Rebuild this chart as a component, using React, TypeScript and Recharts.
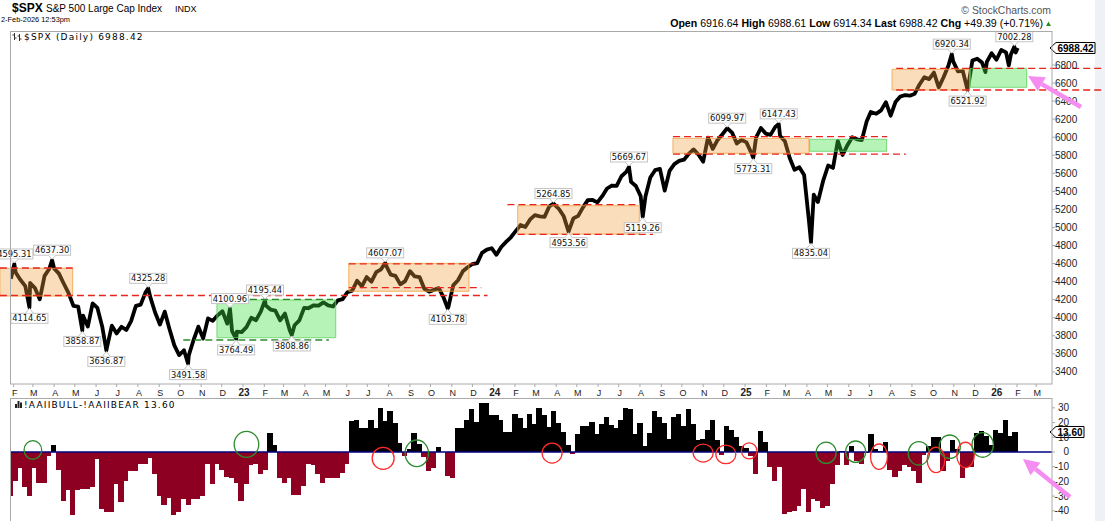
import React from 'react';
import {
  ComposedChart,
  Line,
  Bar,
  XAxis,
  YAxis,
  ReferenceArea,
  ReferenceLine,
  ReferenceDot,
} from 'recharts';

// ---------- data ----------
// S&P 500 weekly closes plus the marked swing highs / lows
const SPX_2022: [string, number][] = [
  ['2022-01-28', 4431.85], ['2022-02-02', 4595.31], ['2022-02-04', 4500.53], ['2022-02-11', 4418.64],
  ['2022-02-18', 4348.87], ['2022-02-24', 4114.65], ['2022-02-25', 4384.65], ['2022-03-04', 4328.87],
  ['2022-03-11', 4204.31], ['2022-03-18', 4463.12], ['2022-03-25', 4543.06], ['2022-03-29', 4637.3],
  ['2022-04-01', 4545.86], ['2022-04-08', 4488.28], ['2022-04-14', 4392.59], ['2022-04-22', 4271.78],
  ['2022-04-29', 4131.93], ['2022-05-06', 4123.34], ['2022-05-12', 3858.87], ['2022-05-13', 4023.89],
  ['2022-05-20', 3901.36], ['2022-05-27', 4158.24], ['2022-06-03', 4108.54], ['2022-06-10', 3900.86],
  ['2022-06-16', 3636.87], ['2022-06-17', 3674.84], ['2022-06-24', 3911.74], ['2022-07-01', 3825.33],
  ['2022-07-08', 3899.38], ['2022-07-15', 3863.16], ['2022-07-22', 3961.63], ['2022-07-29', 4130.29],
  ['2022-08-05', 4145.19], ['2022-08-12', 4280.15], ['2022-08-16', 4325.28], ['2022-08-19', 4228.48],
  ['2022-08-26', 4057.66], ['2022-09-02', 3924.26], ['2022-09-09', 4067.36], ['2022-09-16', 3873.33],
  ['2022-09-23', 3693.23], ['2022-09-30', 3585.62], ['2022-10-07', 3639.66], ['2022-10-13', 3491.58],
  ['2022-10-14', 3583.07], ['2022-10-21', 3752.75], ['2022-10-28', 3901.06], ['2022-11-04', 3770.55],
  ['2022-11-11', 3992.93], ['2022-11-18', 3965.34], ['2022-11-25', 4026.12], ['2022-12-02', 4071.7],
  ['2022-12-09', 3934.38], ['2022-12-13', 4100.96], ['2022-12-16', 3852.36], ['2022-12-22', 3764.49],
  ['2022-12-23', 3844.82], ['2022-12-30', 3839.5],
];
const SPX_2023: [string, number][] = [
  ['2023-01-06', 3895.08], ['2023-01-13', 3999.09], ['2023-01-20', 3972.61], ['2023-01-27', 4070.56],
  ['2023-02-02', 4195.44], ['2023-02-03', 4136.48], ['2023-02-10', 4090.46], ['2023-02-17', 4079.09],
  ['2023-02-24', 3970.04], ['2023-03-03', 4045.64], ['2023-03-10', 3861.59], ['2023-03-13', 3808.86],
  ['2023-03-17', 3916.64], ['2023-03-24', 3970.99], ['2023-03-31', 4109.31], ['2023-04-06', 4105.02],
  ['2023-04-14', 4137.64], ['2023-04-21', 4133.52], ['2023-04-28', 4169.48], ['2023-05-05', 4136.25],
  ['2023-05-12', 4124.08], ['2023-05-19', 4191.98], ['2023-05-26', 4205.45], ['2023-06-02', 4282.37],
  ['2023-06-09', 4298.86], ['2023-06-16', 4409.59], ['2023-06-23', 4348.33], ['2023-06-30', 4450.38],
  ['2023-07-07', 4398.95], ['2023-07-14', 4505.42], ['2023-07-21', 4536.34], ['2023-07-27', 4607.07],
  ['2023-07-28', 4582.23], ['2023-08-04', 4478.03], ['2023-08-11', 4464.05], ['2023-08-18', 4369.71],
  ['2023-08-25', 4405.71], ['2023-09-01', 4515.77], ['2023-09-08', 4457.49], ['2023-09-15', 4450.32],
  ['2023-09-22', 4320.06], ['2023-09-29', 4288.05], ['2023-10-06', 4308.5], ['2023-10-13', 4327.78],
  ['2023-10-20', 4224.16], ['2023-10-26', 4103.78], ['2023-10-27', 4117.37], ['2023-11-03', 4358.34],
  ['2023-11-10', 4415.24], ['2023-11-17', 4514.02], ['2023-11-24', 4559.34], ['2023-12-01', 4594.63],
  ['2023-12-08', 4604.37], ['2023-12-15', 4719.19], ['2023-12-22', 4754.63], ['2023-12-29', 4769.83],
];
const SPX_2024: [string, number][] = [
  ['2024-01-05', 4697.24], ['2024-01-12', 4783.83], ['2024-01-19', 4839.81], ['2024-01-26', 4890.97],
  ['2024-02-02', 4958.61], ['2024-02-09', 5026.61], ['2024-02-16', 5005.57], ['2024-02-23', 5088.8],
  ['2024-03-01', 5137.08], ['2024-03-08', 5123.69], ['2024-03-15', 5117.09], ['2024-03-22', 5234.18],
  ['2024-03-28', 5264.85], ['2024-04-05', 5204.34], ['2024-04-12', 5123.41], ['2024-04-19', 4953.56],
  ['2024-04-26', 5099.96], ['2024-05-03', 5127.79], ['2024-05-10', 5222.68], ['2024-05-17', 5303.27],
  ['2024-05-24', 5304.72], ['2024-05-31', 5277.51], ['2024-06-07', 5346.99], ['2024-06-14', 5431.6],
  ['2024-06-21', 5464.62], ['2024-06-28', 5460.48], ['2024-07-05', 5567.19], ['2024-07-12', 5615.35],
  ['2024-07-16', 5669.67], ['2024-07-19', 5505.0], ['2024-07-26', 5459.1], ['2024-08-02', 5346.56],
  ['2024-08-05', 5119.26], ['2024-08-09', 5344.16], ['2024-08-16', 5554.25], ['2024-08-23', 5634.61],
  ['2024-08-30', 5648.4], ['2024-09-06', 5408.42], ['2024-09-13', 5626.02], ['2024-09-20', 5702.55],
  ['2024-09-27', 5738.17], ['2024-10-04', 5751.07], ['2024-10-11', 5815.03], ['2024-10-18', 5864.67],
  ['2024-10-25', 5808.12], ['2024-11-01', 5728.8], ['2024-11-08', 5995.54], ['2024-11-15', 5870.62],
  ['2024-11-22', 5969.34], ['2024-11-29', 6032.38], ['2024-12-06', 6099.97], ['2024-12-13', 6051.09],
  ['2024-12-20', 5930.85], ['2024-12-27', 5970.84],
];
const SPX_2025: [string, number][] = [
  ['2025-01-03', 5942.47], ['2025-01-10', 5827.04], ['2025-01-13', 5773.31], ['2025-01-17', 5996.66],
  ['2025-01-24', 6101.24], ['2025-01-31', 6040.53], ['2025-02-07', 6025.99], ['2025-02-14', 6114.63],
  ['2025-02-19', 6147.43], ['2025-02-21', 6013.13], ['2025-02-28', 5954.5], ['2025-03-07', 5770.2],
  ['2025-03-14', 5638.94], ['2025-03-21', 5667.56], ['2025-03-28', 5580.94], ['2025-04-04', 5074.08],
  ['2025-04-07', 4835.04], ['2025-04-11', 5363.36], ['2025-04-17', 5282.7], ['2025-04-25', 5525.21],
  ['2025-05-02', 5686.67], ['2025-05-09', 5659.91], ['2025-05-16', 5958.38], ['2025-05-23', 5802.82],
  ['2025-05-30', 5911.69], ['2025-06-06', 6000.36], ['2025-06-13', 5976.97], ['2025-06-20', 5967.84],
  ['2025-06-27', 6173.07], ['2025-07-03', 6279.35], ['2025-07-11', 6259.75], ['2025-07-18', 6296.79],
  ['2025-07-25', 6388.64], ['2025-08-01', 6238.01], ['2025-08-08', 6389.45], ['2025-08-15', 6449.8],
  ['2025-08-22', 6466.91], ['2025-08-29', 6460.26], ['2025-09-05', 6481.5], ['2025-09-12', 6584.29],
  ['2025-09-19', 6664.36], ['2025-09-26', 6643.7], ['2025-10-03', 6715.79], ['2025-10-10', 6552.51],
  ['2025-10-17', 6664.01], ['2025-10-24', 6791.69], ['2025-10-29', 6920.34], ['2025-10-31', 6840.2],
  ['2025-11-07', 6728.8], ['2025-11-14', 6734.11], ['2025-11-21', 6521.92], ['2025-11-28', 6849.09],
  ['2025-12-05', 6870.4], ['2025-12-12', 6827.41], ['2025-12-17', 6721.43], ['2025-12-19', 6834.5],
  ['2025-12-26', 6929.94],
];
const SPX_2026: [string, number][] = [
  ['2026-01-02', 6858.47], ['2026-01-09', 6966.28], ['2026-01-16', 6940.01], ['2026-01-20', 6796.86],
  ['2026-01-23', 6915.61], ['2026-01-28', 7002.28], ['2026-01-30', 6939.03], ['2026-02-02', 6988.42],
];

// AAII bull-bear spread, weekly from 2022-01-27
const AAII_START = '2022-01-27';
const AAII_2022 = [
  -30, -20, -11, -24, -30, -11, -21, -21, -3, 5, -12, -33, -26, -43, -26, -25, -25, -24, -5, -39,
  -41, -41, -22, -34, -20, -13, -13, -8, -8, -4, -15, -30, -36, -31, -43, -41, -32, -36, -32, -32,
  -30, -8, -22, -8, -12, -17, -18, -21, -33,
];
const AAII_2023 = [
  -22, -9, -8, -15, -12, 13, 5, -18, -21, -18, -29, -29, -23, -8, -9, -15, -21, -18, -18, -18,
  -14, -8, 21, 22, 16, 16, 22, 16, 30, 21, 28, 20, 6, -3, 2, 13, 5.7, -3.4, -13, -11,
  3.4, 0.3, -16, -18, 16, 16, 21.5, 29.5, 20.4, 33, 33, 25,
];
const AAII_2024 = [
  25, 21.5, 13.6, 13.6, 25.6, 23, 16, 25.6, 19.3, 30, 25, 17, 27.7, 20, 13.6, 5, -1.4, 12.5, 17.7, 18,
  20.4, 12.5, 19.3, 23.8, 18.6, 16.6, 21.5, 30, 29, 12.5, 20, 4, 13, 28, 24, 20, 9, 24, 26, 18,
  29, 19, 8, 9, 15, 22, 8, -2, 18, 15, 10, 4,
];
const AAII_2025 = [
  3, -3, -15, 14, 7, -10, -20, -10, -42, -41, -40, -37, -25, -41, -32, -33, -38, -37, -22, -9,
  1, -9, 4, -6, -8, -1, 12, 2, 1, 7, -12, -17, -13, -9, -10, -13, -21, -2, 4, 10,
  10, -13, -6, 8, 2, -18, -10, -10, 13, 14, 11, 5,
];
const AAII_2026 = [15, 13, 22, 11, 13.6];

const PRICE_TICKS = [3400, 3600, 3800, 4000, 4200, 4400, 4600, 4800, 5000, 5200, 5400, 5600, 5800, 6000, 6200, 6400, 6600, 6800];
const AAII_TICKS = [-40, -30, -20, -10, 0, 10, 20, 30];
const MONTH_LETTERS = ['J', 'F', 'M', 'A', 'M', 'J', 'J', 'A', 'S', 'O', 'N', 'D'];

// swing labels: date, value, high/low
const SWINGS: [string, number, 'h' | 'l'][] = [
  ['2022-02-02', 4595.31, 'h'], ['2022-02-24', 4114.65, 'l'], ['2022-03-29', 4637.3, 'h'],
  ['2022-05-12', 3858.87, 'l'], ['2022-06-16', 3636.87, 'l'], ['2022-08-16', 4325.28, 'h'],
  ['2022-10-13', 3491.58, 'l'], ['2022-12-13', 4100.96, 'h'], ['2022-12-22', 3764.49, 'l'],
  ['2023-02-02', 4195.44, 'h'], ['2023-03-13', 3808.86, 'l'], ['2023-07-27', 4607.07, 'h'],
  ['2023-10-26', 4103.78, 'l'], ['2024-03-28', 5264.85, 'h'], ['2024-04-19', 4953.56, 'l'],
  ['2024-07-16', 5669.67, 'h'], ['2024-08-05', 5119.26, 'l'], ['2024-12-06', 6099.97, 'h'],
  ['2025-01-13', 5773.31, 'l'], ['2025-02-19', 6147.43, 'h'], ['2025-04-07', 4835.04, 'l'],
  ['2025-10-29', 6920.34, 'h'], ['2025-11-21', 6521.92, 'l'], ['2026-01-28', 7002.28, 'h'],
];

// annotation boxes: from, to, top, bottom, colour
const BOXES: [string, string, number, number, 'o' | 'g'][] = [
  ['2022-01-12', '2022-04-28', 4547, 4240, 'o'],
  ['2022-11-24', '2023-05-16', 4196, 3778, 'g'],
  ['2023-06-04', '2023-11-26', 4603, 4293, 'o'],
  ['2024-02-05', '2024-07-31', 5241, 4927, 'o'],
  ['2024-09-18', '2025-04-04', 5988, 5822, 'o'],
  ['2025-04-05', '2025-07-26', 5977, 5844, 'g'],
  ['2025-08-03', '2025-11-24', 6752, 6523, 'o'],
  ['2025-11-25', '2026-02-15', 6763, 6553, 'g'],
];

// dashed level lines: from, to, level, colour
const LEVELS: [string, string, number, 'r' | 'g'][] = [
  ['2022-01-12', '2023-12-23', 4246, 'r'],
  ['2022-01-12', '2022-04-28', 4551, 'r'],
  ['2023-06-04', '2023-12-04', 4597, 'r'],
  ['2023-06-04', '2023-12-14', 4333, 'r'],
  ['2024-01-21', '2024-07-31', 5252, 'r'],
  ['2024-02-05', '2024-08-20', 4924, 'r'],
  ['2024-09-18', '2025-07-27', 6006, 'r'],
  ['2024-09-18', '2025-08-23', 5812, 'r'],
  ['2025-08-09', '2026-06-08', 6763, 'r'],
  ['2025-08-09', '2026-06-08', 6523, 'r'],
  ['2023-01-11', '2023-05-12', 4202, 'g'],
  ['2022-10-06', '2023-05-06', 3753, 'g'],
];

// circles on the sentiment panel: date, level, rx, ry, colour
const CIRCLES: [string, number, number, number, 'r' | 'g'][] = [
  ['2022-03-01', 1.4, 8.8, 9.3, 'g'], ['2023-01-06', 5.2, 12.3, 13, 'g'],
  ['2023-07-24', -4.3, 11, 11, 'r'], ['2023-09-11', -0.9, 11.7, 13.3, 'g'],
  ['2024-03-26', -0.7, 10, 10, 'r'], ['2024-11-01', -0.7, 10, 9, 'r'],
  ['2024-12-04', -1.6, 10, 9.3, 'r'], ['2025-01-07', 0.7, 7.8, 8, 'r'],
  ['2025-04-29', -0.5, 10, 10.7, 'g'], ['2025-06-11', 0.2, 10, 10.7, 'g'],
  ['2025-07-15', -3.2, 8.5, 12.7, 'r'], ['2025-09-11', -0.9, 10.6, 11.7, 'g'],
  ['2025-10-06', -5.4, 8.8, 12.7, 'r'], ['2025-10-26', 3.6, 10.6, 11.7, 'g'],
  ['2025-11-18', -2, 8.8, 12.7, 'r'], ['2025-12-13', 4.8, 10.7, 12.3, 'g'],
];

// ---------- helpers ----------
const DAY0 = Date.UTC(2023, 0, 1);
const toDay = (s: string) => Math.round((Date.parse(s + 'T00:00:00Z') - DAY0) / 86400000);

const X_MIN = -339.3;
const X_MAX = 1177.9;
const Y_MIN = 3265.4;
const Y_MAX = 7165.7;
const A_MIN = -46.9;
const A_MAX = 36.7;
const WEEK_PX = 5.3; // one week on the time axis, overlapped so neighbouring bars join

const SANS = 'Liberation Sans, Arial, sans-serif';
const SC = 'DejaVu Sans, Verdana, sans-serif';
const RED = '#e8241e';
const DKRED = '#8e0022';

const priceData = [...SPX_2022, ...SPX_2023, ...SPX_2024, ...SPX_2025, ...SPX_2026].map(([d, v]) => ({
  d: toDay(d),
  spx: v,
}));

const aaiiData = [...AAII_2022, ...AAII_2023, ...AAII_2024, ...AAII_2025, ...AAII_2026].map((v, i) => ({
  d: toDay(AAII_START) + 7 * i,
  v,
}));

const monthTicks: number[] = [];
for (let y = 2022; y <= 2026; y++) {
  for (let m = 0; m < 12; m++) {
    const t = (Date.UTC(y, m, 1) - DAY0) / 86400000;
    if (t > X_MIN && t < X_MAX) monthTicks.push(t);
  }
}

const MonthTick = (props: any) => {
  const { x, y, payload } = props;
  const dt = new Date(DAY0 + payload.value * 86400000);
  const m = dt.getUTCMonth();
  const yr = m === 0;
  return (
    <text
      x={x + 1}
      y={y + 8.5}
      textAnchor="middle"
      fontSize={yr ? 10 : 9}
      fontWeight={yr ? 'bold' : 'normal'}
      fontFamily={SANS}
      fill="#222"
    >
      {yr ? String(dt.getUTCFullYear()).slice(2) : MONTH_LETTERS[m]}
    </text>
  );
};

// weekly bar: a full week wide, black above zero, dark red below
const WeekBar = (p: any) => {
  if (p.height == null || p.width == null) return null;
  const cx = p.x + p.width / 2;
  const y = Math.min(p.y, p.y + p.height);
  const h = Math.abs(p.height);
  const neg = p.payload && p.payload.v < 0;
  return (
    <rect
      x={cx - WEEK_PX / 2}
      y={y}
      width={WEEK_PX}
      height={h}
      fill={neg ? DKRED : '#000'}
      shapeRendering="crispEdges"
    />
  );
};

const SwingLabel = ({ cx, cy, text, dir }: any) => {
  const w = 37;
  const h = 10;
  const top = dir === 'h' ? cy - 5 - h : cy + 6;
  const edge = dir === 'h' ? top + h : top;
  const tip = dir === 'h' ? cy - 1 : cy + 1;
  return (
    <g>
      <rect x={cx - w / 2} y={top} width={w} height={h} fill="#fff" stroke="#c4c4c4" />
      <path d={`M${cx - 4},${edge} L${cx},${tip} L${cx + 4},${edge}`} fill="#fff" stroke="#c4c4c4" />
      <text x={cx} y={top + 8} textAnchor="middle" fontSize={8.3} fontFamily={SC} fill="#111">
        {text}
      </text>
    </g>
  );
};

const LastTag = ({ cx, cy, text, w }: any) => (
  <g>
    <path
      d={`M${cx - 2},${cy} L${cx + 4},${cy - 5.5} L${cx + 4 + w},${cy - 5.5} L${cx + 4 + w},${cy + 5.5} L${cx + 4},${cy + 5.5} Z`}
      fill="#fff"
      stroke="#000"
    />
    <text x={cx + 5.5} y={cy + 4} fontSize={10} fontWeight="bold" fontFamily={SANS} fill="#000">
      {text}
    </text>
  </g>
);

const Arrow = ({ tail, tip }: { tail: [number, number]; tip: [number, number] }) => {
  const dx = tip[0] - tail[0];
  const dy = tip[1] - tail[1];
  const len = Math.hypot(dx, dy);
  const ux = dx / len;
  const uy = dy / len;
  const bx = tip[0] - 16 * ux;
  const by = tip[1] - 16 * uy;
  const px = -uy;
  const py = ux;
  return (
    <g>
      <line x1={tail[0]} y1={tail[1]} x2={bx} y2={by} stroke="#f58cf0" strokeWidth={4.5} />
      <polygon
        points={`${tip[0]},${tip[1]} ${bx + 8 * px},${by + 8 * py} ${bx - 8 * px},${by - 8 * py}`}
        fill="#f58cf0"
      />
    </g>
  );
};

export default function App() {
  return (
    <div style={{ position: 'absolute', left: 0, top: 0, width: 1105, height: 521, background: '#fff', overflow: 'hidden' }}>
      <div style={{ position: 'absolute', left: 1095, top: 0, width: 10, height: 521, background: '#eef1f5' }} />

      {/* price panel */}
      <div style={{ position: 'absolute', left: 0, top: 0 }}>
        <ComposedChart width={1105} height={398} data={priceData} margin={{ top: 32, right: 0, bottom: 0, left: 10 }}>
          <XAxis
            type="number"
            dataKey="d"
            domain={[X_MIN, X_MAX]}
            allowDataOverflow
            ticks={monthTicks}
            interval={0}
            tick={<MonthTick />}
            tickSize={3}
            tickMargin={0}
            height={14}
            axisLine={false}
            tickLine={{ stroke: '#aaa' }}
          />
          <YAxis
            orientation="right"
            type="number"
            domain={[Y_MIN, Y_MAX]}
            allowDataOverflow
            ticks={PRICE_TICKS}
            interval={0}
            width={53}
            axisLine={false}
            tickSize={3}
            tickMargin={0}
            tickLine={{ stroke: '#aaa' }}
            tick={{ fontSize: 10, fill: '#222', fontFamily: SANS }}
          />
          <Line
            dataKey="spx"
            type="linear"
            stroke="#000"
            strokeWidth={3.8}
            strokeLinejoin="round"
            dot={false}
            isAnimationActive={false}
          />
          {BOXES.map(([a, b, hi, lo, c], i) => (
            <ReferenceArea
              key={'box' + i}
              x1={toDay(a)}
              x2={toDay(b)}
              y1={lo}
              y2={hi}
              ifOverflow="visible"
              fill={c === 'o' ? '#f0a040' : '#40e040'}
              fillOpacity={c === 'o' ? 0.35 : 0.38}
              stroke={c === 'o' ? '#f0a040' : '#60d060'}
              strokeOpacity={0.8}
              zIndex={450}
            />
          ))}
          {LEVELS.map(([a, b, lv, c], i) => (
            <ReferenceLine
              key={'lv' + i}
              segment={[
                { x: toDay(a), y: lv },
                { x: toDay(b), y: lv },
              ]}
              ifOverflow="visible"
              stroke={c === 'r' ? RED : '#2a8a2a'}
              strokeWidth={1.3}
              strokeDasharray="7 4"
              zIndex={460}
            />
          ))}
          {SWINGS.map(([d, v, dir], i) => (
            <ReferenceDot
              key={'sw' + i}
              x={toDay(d)}
              y={v}
              r={0}
              ifOverflow="visible"
              zIndex={470}
              shape={(p: any) => <SwingLabel cx={p.cx} cy={p.cy} text={v.toFixed(2)} dir={dir} />}
            />
          ))}
          <ReferenceDot
            x={X_MAX}
            y={6988.42}
            r={0}
            ifOverflow="visible"
            zIndex={900}
            shape={(p: any) => <LastTag cx={p.cx} cy={p.cy} text="6988.42" w={39} />}
          />
        </ComposedChart>
      </div>

      {/* sentiment panel */}
      <div style={{ position: 'absolute', left: 0, top: 398 }}>
        <ComposedChart
          width={1105}
          height={123}
          data={aaiiData}
          barCategoryGap={0}
          barGap={0}
          margin={{ top: 0, right: 0, bottom: 0, left: 10 }}
        >
          <XAxis type="number" dataKey="d" domain={[X_MIN, X_MAX]} allowDataOverflow hide />
          <YAxis
            orientation="right"
            type="number"
            domain={[A_MIN, A_MAX]}
            allowDataOverflow
            ticks={AAII_TICKS}
            interval={0}
            width={53}
            axisLine={false}
            tickSize={3}
            tickMargin={0}
            tickLine={{ stroke: '#aaa' }}
            tick={(p: any) => (
              <text x={p.x + 14} y={p.y + 3.5} textAnchor="end" fontSize={10} fill="#222" fontFamily={SANS}>
                {p.payload.value}
              </text>
            )}
          />
          <Bar dataKey="v" isAnimationActive={false} shape={WeekBar} />
          <ReferenceLine y={0} stroke="#000080" strokeWidth={1.5} zIndex={460} />
          {CIRCLES.map(([d, v, rx, ry, c], i) => (
            <ReferenceDot
              key={'c' + i}
              x={toDay(d)}
              y={v}
              r={0}
              ifOverflow="visible"
              zIndex={470}
              shape={(p: any) => (
                <ellipse
                  cx={p.cx}
                  cy={p.cy}
                  rx={rx}
                  ry={ry}
                  fill="none"
                  stroke={c === 'r' ? '#ff2a2a' : '#2e8b2e'}
                  strokeWidth={1.3}
                />
              )}
            />
          ))}
          <ReferenceDot
            x={X_MAX}
            y={13.6}
            r={0}
            ifOverflow="visible"
            zIndex={900}
            shape={(p: any) => <LastTag cx={p.cx} cy={p.cy} text="13.60" w={28} />}
          />
        </ComposedChart>
      </div>

      {/* frame, titles, arrows */}
      <svg
        width={1105}
        height={521}
        style={{ position: 'absolute', left: 0, top: 0, pointerEvents: 'none' }}
      >
        <rect x={10.5} y={31.5} width={1041.5} height={352.5} fill="none" stroke="#aaa" />
        <rect x={10.5} y={398.5} width={1041.5} height={130} fill="none" stroke="#aaa" />

        <text x={12} y={11.5} fontSize={12} fontWeight="bold" fontFamily={SANS} fill="#000">
          $SPX
        </text>
        <text x={46} y={11.5} fontSize={10} fontFamily={SANS} fill="#000">
          S&amp;P 500 Large Cap Index
        </text>
        <text x={175} y={11.5} fontSize={9} fontFamily={SANS} fill="#000">
          INDX
        </text>
        <text x={1} y={21.5} fontSize={7.4} fontFamily={SANS} fill="#000">
          2-Feb-2026 12:53pm
        </text>

        <text x={1051} y={13.5} textAnchor="end" fontSize={10.4} fontFamily={SANS} fill="#555">
          © StockCharts.com
        </text>
        <text x={1043} y={26.5} textAnchor="end" fontSize={10.6} fontFamily={SANS} fill="#000">
          <tspan fontWeight="bold">Open</tspan> 6916.64  <tspan fontWeight="bold">High</tspan> 6988.61{' '}
          <tspan fontWeight="bold">Low</tspan> 6914.34  <tspan fontWeight="bold">Last</tspan> 6988.42{' '}
          <tspan fontWeight="bold">Chg</tspan> +49.39 (+0.71%)
        </text>
        <polygon points="1046,26 1051,26 1048.5,21.5" fill="#2a8a2a" />

        {/* ohlc glyph */}
        <g stroke="#333" strokeWidth={1}>
          <line x1={14.5} y1={33} x2={14.5} y2={40} />
          <line x1={12.5} y1={35} x2={14.5} y2={35} />
          <line x1={14.5} y1={38} x2={16.5} y2={38} />
          <line x1={19.5} y1={34} x2={19.5} y2={41} />
          <line x1={17.5} y1={36} x2={19.5} y2={36} />
          <line x1={19.5} y1={39} x2={21.5} y2={39} />
        </g>
        <text x={24} y={39.5} fontSize={9} letterSpacing={1.2} fontFamily={SC} fill="#000">
          $SPX (Daily) 6988.42
        </text>

        {/* bar glyph */}
        <g fill="#222">
          <rect x={15} y={404} width={2} height={4} />
          <rect x={17.5} y={401} width={2} height={7} />
          <rect x={20} y={402.5} width={2} height={5.5} />
        </g>
        <text x={24} y={407.5} fontSize={9} letterSpacing={1.2} fontFamily={SC} fill="#000">
          !AAIIBULL-!AAIIBEAR 13.60
        </text>

        <Arrow tail={[1081, 107]} tip={[1028, 76]} />
        <Arrow tail={[1070, 497]} tip={[1023, 459]} />
      </svg>
    </div>
  );
}
